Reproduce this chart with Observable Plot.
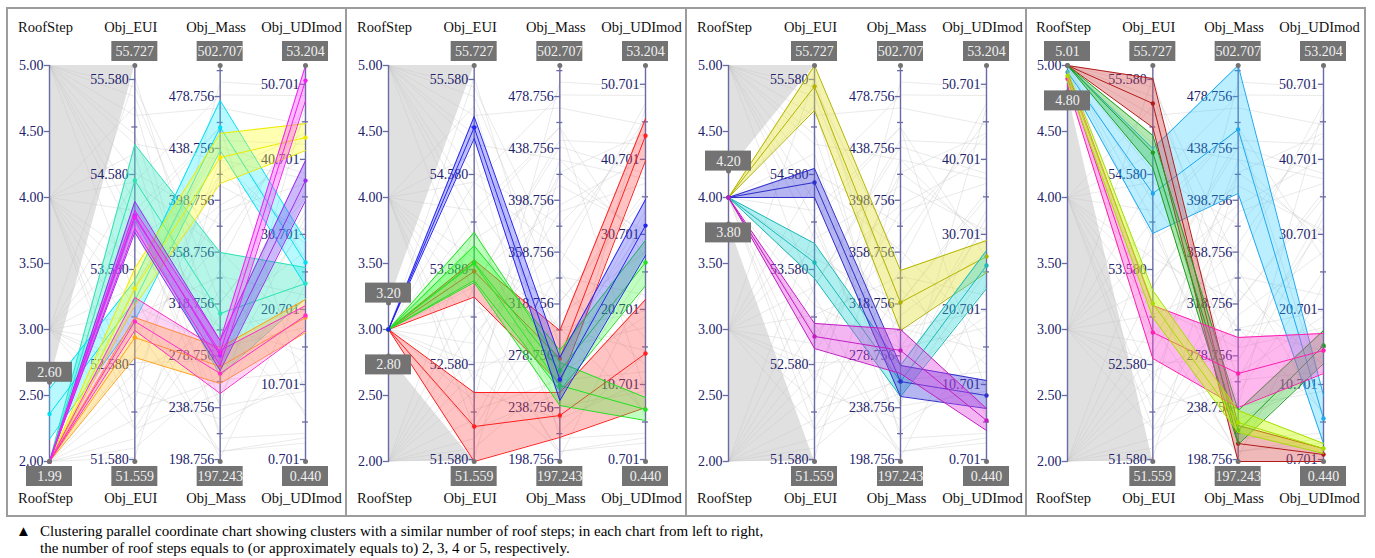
<!DOCTYPE html>
<html><head><meta charset="utf-8">
<script src="https://cdn.jsdelivr.net/npm/d3@7"></script>
<script src="https://cdn.jsdelivr.net/npm/@observablehq/plot@0.6"></script>
<style>
body{margin:0;background:#fff;font-family:"Liberation Serif","Liberation Sans",Arial,sans-serif;}
#wrap{position:relative;width:1375px;height:558px;overflow:hidden;}
.panel{position:absolute;top:0;}
#frame{position:absolute;left:6px;top:7px;width:1356px;height:506px;border:2px solid #9c9c9c;}
.sep{position:absolute;top:7px;width:2px;height:510px;background:#9c9c9c;}
#caption{position:absolute;left:0;top:523px;font-size:15px;line-height:17px;color:#000;}
#caption .tri{position:absolute;left:16px;top:0;}
#caption .l1{position:absolute;left:40px;top:0;white-space:nowrap;}
#caption .l2{position:absolute;left:40px;top:17px;white-space:nowrap;}
</style></head><body>
<div id="wrap"></div>
<script>
// ---------- data ----------
const axisNames = ["RoofStep", "Obj_EUI", "Obj_Mass", "Obj_UDImod"];
const axisMin = [2, 51.559, 197.243, 0.440];
const axisMax = [5, 55.727, 502.707, 53.204];
const minLabels = ["1.99", "51.559", "197.243", "0.440"];
const maxLabels = ["5.01", "55.727", "502.707", "53.204"];
const rsTicks = ["2.00", "2.50", "3.00", "3.50", "4.00", "4.50", "5.00"];
const euiTicks = ["51.580", "52.580", "53.580", "54.580", "55.580"];
const massTicks = ["198.756", "238.756", "278.756", "318.756", "358.756", "398.756", "438.756", "478.756"];
const udiTicks = ["0.701", "10.701", "20.701", "30.701", "40.701", "50.701"];
const euiMinor = [52.080, 53.080, 54.080, 55.080];
const massMinor = [218.756, 258.756, 298.756, 338.756, 378.756, 418.756, 458.756, 498.756];
const udiMinor = [5.701, 15.701, 25.701, 35.701, 45.701];
const brushHi = ["2.60", "3.20", "4.20", "5.01"];
const brushLo = ["1.99", "2.80", "3.80", "4.80"];

// background (all designs), [RoofStep, EUI, Mass, UDImod]
const bgLines = [
  [5, 55.2, 470, 45.3], [5, 54.9, 430, 38.1], [5, 55.5, 350, 48.2], [5, 54.3, 300, 20.5],
  [5, 53.9, 410, 31.2], [5, 55.0, 260, 12.4], [5, 54.6, 380, 43.9], [5, 53.3, 200, 24.1],
  [5, 55.4, 320, 36.4], [5, 54.1, 455, 9.6],
  [4, 54.2, 455, 27.5], [4, 53.7, 320, 35.6], [4, 55.3, 240, 9.8], [4, 52.9, 365, 46.1],
  [4, 53.2, 285, 18.3], [4, 54.8, 215, 4.2], [4, 52.4, 430, 29.4], [4, 53.5, 395, 40.8],
  [4, 51.9, 330, 13.3], [4, 54.5, 480, 49.2], [4, 52.1, 260, 33.0],
  [3, 53.1, 340, 22.6], [3, 52.6, 275, 33.9], [3, 54.1, 220, 14.7], [3, 52.2, 490, 50.3],
  [3, 53.8, 300, 7.1], [3, 51.9, 250, 25.8], [3, 52.8, 420, 44.2], [3, 54.5, 360, 16.9],
  [3, 55.6, 285, 31.9], [3, 52.5, 205, 2.9], [3, 53.4, 440, 38.8],
  [2, 52.3, 230, 11.2], [2, 51.8, 310, 28.4], [2, 53.0, 205, 3.6], [2, 52.7, 390, 37.5],
  [2, 51.7, 265, 19.8], [2, 53.4, 445, 42.7], [2, 52.0, 345, 6.5], [2, 54.0, 240, 47.6],
  [2, 52.5, 300, 15.2], [2, 51.6, 420, 30.6]
];

// clusters: lo / mid / hi per axis
const panel1Clusters = [
  {name: "turquoise", lo: [2, 54.10, 263.6, 22.15], mid: [2, 54.517, 311.4, 24.15], hi: [2, 54.896, 358.5, 26.28]},
  {name: "cyan", lo: [2.17, 53.043, 437.1, 23.88], mid: [2.36, 53.254, 454.9, 26.95], hi: [2.55, 53.464, 475.7, 29.9]},
  {name: "yellow", lo: [2, 53.20, 411.7, 41.87], mid: [2, 53.38, 431.7, 43.6], hi: [2, 53.59, 450.3, 45.46]},
  {name: "orange", lo: [2, 52.654, 257.4, 17.62], mid: [2, 52.864, 270.5, 19.62], hi: [2, 53.075, 285.2, 22.02]},
  {name: "pink", lo: [2, 52.938, 249.7, 17.9], mid: [2, 53.033, 265.1, 19.9], hi: [2, 53.285, 282.9, 21.2]},
  {name: "purple", lo: [2, 53.97, 267.4, 35.2], mid: [2, 54.148, 279.0, 37.87], hi: [2, 54.296, 290.6, 40.53]},
  {name: "magenta", lo: [2, 54.012, 271.3, 48.53], mid: [2, 54.127, 281.3, 51.19], hi: [2, 54.201, 290.6, 53.19]}
];
const panel2Clusters = [
  {name: "red", lo: [3, 51.559, 215.8, 7.63], mid: [3, 51.927, 232.7, 14.83], hi: [3, 52.285, 250.5, 22.02]},
  {name: "red", lo: [3, 53.29, 257.4, 40.52], mid: [3, 53.56, 276.7, 43.85], hi: [3, 53.68, 298.3, 46.1]},
  {name: "green", lo: [3, 53.443, 240.4, 5.9], mid: [3, 53.643, 255.9, 7.37], hi: [3, 53.97, 273.6, 8.96]},
  {name: "green", lo: [3, 53.464, 252.0, 23.88], mid: [3, 53.654, 267.4, 26.95], hi: [3, 53.83, 282.9, 29.9]},
  {name: "blue", lo: [3, 54.959, 244.3, 27.88], mid: [3, 55.075, 260.5, 31.87], hi: [3, 55.19, 277.5, 35.34]}
];
const panel3Clusters = [
  {name: "olive", lo: [4, 55.254, 298.3, 25.6], mid: [4, 55.506, 319.9, 27.75], hi: [4, 55.727, 344.6, 29.88]},
  {name: "teal", lo: [4, 53.485, 247.4, 23.48], mid: [4, 53.654, 258.9, 26.55], hi: [4, 53.854, 271.3, 28.54]},
  {name: "navy", lo: [4, 54.338, 247.4, 7.5], mid: [4, 54.496, 258.9, 9.23], hi: [4, 54.643, 271.3, 11.23]},
  {name: "violet", lo: [4, 52.748, 265.1, 4.57], mid: [4, 52.875, 282.9, 5.9], hi: [4, 53.012, 299.1, 7.5]}
];
const panel4Clusters = [
  {name: "sky", lo: [4.9, 53.96, 404.0, 2.84], mid: [4.95, 54.38, 453.3, 6.17], hi: [5, 54.854, 502.707, 9.23]},
  {name: "darkred", lo: [5, 55.074, 197.243, 0.44], mid: [5, 55.327, 211.1, 1.37], hi: [5, 55.59, 225.0, 2.17]},
  {name: "forest", lo: [5, 54.65, 210.4, 13.49], mid: [5, 54.81, 221.2, 15.89], hi: [5, 54.99, 236.6, 17.89]},
  {name: "rose", lo: [4.85, 52.643, 238.9, 12.16], mid: [4.9, 52.917, 265.1, 15.23], hi: [4.95, 53.201, 292.9, 17.5]},
  {name: "lime", lo: [4.88, 53.075, 219.6, 1.51], mid: [4.92, 53.222, 227.3, 2.17], hi: [4.96, 53.359, 236.6, 2.84]}
];
const panels = [panel1Clusters, panel2Clusters, panel3Clusters, panel4Clusters];

// ---------- styles ----------
const clusterStyle = {
  turquoise: ["#2ee3b6", "#3de8c3", 0.38],
  cyan: ["#00e0f2", "#10ecff", 0.3],
  yellow: ["#eeea00", "#ffff20", 0.35],
  purple: ["#9a2cf0", "#7a48f0", 0.38],
  magenta: ["#f21ff2", "#ff3cff", 0.35],
  pink: ["#ff2fc8", "#ff40d0", 0.22],
  orange: ["#ffa31a", "#ffc43c", 0.38],
  blue: ["#2424f0", "#3c3cff", 0.32],
  red: ["#ff2020", "#ff4848", 0.33],
  green: ["#22e022", "#30ff30", 0.3],
  olive: ["#b4b400", "#e2e240", 0.42],
  navy: ["#3030cc", "#4646dc", 0.4],
  teal: ["#1cb8b8", "#30d6d6", 0.38],
  violet: ["#c21fc2", "#e040e0", 0.38],
  darkred: ["#b01c1c", "#d84848", 0.38],
  forest: ["#1e9e1e", "#38c238", 0.38],
  sky: ["#1ea8f0", "#1ec8ff", 0.3],
  rose: ["#ff1fb0", "#ff44d2", 0.38],
  lime: ["#a6de00", "#c8ff00", 0.42]
};
const font = "Liberation Serif, Liberation Sans, Arial, sans-serif";
const axisColor = "#6a6aa4";
const labelColor = "#22226a";
const boxColor = "#737373";
const panelLeft = [7, 346, 686, 1025];
const axisFirst = [49, 388, 728, 1067];
const axisLast = [305, 645, 986, 1323];
const W = 340, H = 520;

const scales = axisMin.map((mn, i) => d3.scaleLinear([mn, axisMax[i]], [0, 1]));
const nv = (i, v) => scales[i](v);

// shared rows
const bgRows = bgLines.flatMap((r, k) => r.map((v, i) => ({k, x: i, y: nv(i, v)})));
const majorRows = [
  ...rsTicks.map(t => ({axis: 0, y: nv(0, +t), label: t})),
  ...euiTicks.map(t => ({axis: 1, y: nv(1, +t), label: t})),
  ...massTicks.map(t => ({axis: 2, y: nv(2, +t), label: t})),
  ...udiTicks.map(t => ({axis: 3, y: nv(3, +t), label: t}))
];
const minorRows = [
  ...euiMinor.map(v => ({axis: 1, y: nv(1, v)})),
  ...massMinor.map(v => ({axis: 2, y: nv(2, v)})),
  ...udiMinor.map(v => ({axis: 3, y: nv(3, v)}))
];

const wrap = document.getElementById("wrap");

panels.forEach((clusters, p) => {
  const marks = [];
  const hi = +brushHi[p], lo = +brushLo[p];
  // gray filtered-out regions
  if (hi < 5) marks.push(Plot.areaY([{x: 0, y1: nv(0, hi), y2: 1}, {x: 1, y1: 1, y2: 1}],
    {x: "x", y1: "y1", y2: "y2", fill: "#d6d6d6", fillOpacity: 0.75}));
  if (lo > 2) marks.push(Plot.areaY([{x: 0, y1: 0, y2: nv(0, lo)}, {x: 1, y1: 0, y2: 0}],
    {x: "x", y1: "y1", y2: "y2", fill: "#d6d6d6", fillOpacity: 0.75}));
  // background polylines
  marks.push(Plot.line(bgRows, {x: "x", y: "y", z: "k", stroke: "#c4c4c4", strokeOpacity: 0.45, strokeWidth: 0.8}));
  // axes
  marks.push(Plot.ruleX([0, 1, 2, 3], {x: d => d, y1: 0, y2: 1, stroke: axisColor, strokeWidth: 1.4}));
  marks.push(Plot.ruleY(majorRows, {y: "y", x1: d => d.axis - 0.06, x2: d => d.axis + 0.01, stroke: axisColor, strokeWidth: 1.3}));
  marks.push(Plot.ruleY(minorRows, {y: "y", x1: d => d.axis - 0.035, x2: d => d.axis + 0.035, stroke: axisColor, strokeWidth: 1.3}));
  marks.push(Plot.text(majorRows, {x: "axis", y: "y", text: "label", textAnchor: "end", dx: -6,
    fill: labelColor, fontSize: 14, fontFamily: font}));
  marks.push(Plot.text(axisNames, {x: (d, i) => i, y: 1, text: d => d, dy: -38, dx: -4,
    fill: "#111", fontSize: 14.5, fontFamily: font}));
  marks.push(Plot.text(axisNames, {x: (d, i) => i, y: 0, text: d => d, dy: 37, dx: -4,
    fill: "#111", fontSize: 14.5, fontFamily: font}));
  // clusters
  clusters.forEach(c => {
    const [stroke, fill, op] = clusterStyle[c.name];
    const rows = [0, 1, 2, 3].map(i => ({x: i, lo: nv(i, c.lo[i]), mid: nv(i, c.mid[i]), hi: nv(i, c.hi[i])}));
    marks.push(Plot.areaY(rows, {x: "x", y1: "lo", y2: "hi", fill, fillOpacity: op}));
    marks.push(Plot.line(rows, {x: "x", y: "hi", stroke, strokeWidth: 1}));
    marks.push(Plot.line(rows, {x: "x", y: "lo", stroke, strokeWidth: 1}));
    marks.push(Plot.line(rows, {x: "x", y: "mid", stroke, strokeWidth: 1}));
    marks.push(Plot.dot(rows, {x: "x", y: "mid", r: 2.2, fill: stroke}));
  });
  // value boxes
  const topRows = [1, 2, 3].map(i => ({axis: i, y: 1, label: maxLabels[i]}));
  const botRows = [1, 2, 3].map(i => ({axis: i, y: 0, label: minLabels[i]}));
  const upRows = [], downRows = [];
  if (hi >= 5) topRows.push({axis: 0, y: 1, label: brushHi[p]}); else upRows.push({axis: 0, y: nv(0, hi), label: brushHi[p]});
  if (lo <= 2) botRows.push({axis: 0, y: 0, label: brushLo[p]}); else downRows.push({axis: 0, y: nv(0, lo), label: brushLo[p]});
  const boxSets = [[topRows, -24, 4, -14], [botRows, 5, -25, 15], [upRows, -20, 0, -10], [downRows, -1, -19, 9]];
  boxSets.forEach(([rows, it, ib, dy]) => {
    marks.push(Plot.dot(rows, {x: "axis", y: "y", r: 2.5, fill: boxColor}));
    marks.push(Plot.rect(rows, {x1: "axis", x2: "axis", y1: "y", y2: "y", fill: boxColor,
      insetLeft: -23, insetRight: -23, insetTop: it, insetBottom: ib}));
    marks.push(Plot.text(rows, {x: "axis", y: "y", text: "label", dy, fill: "#f0f0f0",
      fontSize: 14, fontFamily: font}));
  });

  const left = panelLeft[p];
  const chart = Plot.plot({
    width: W, height: H,
    marginLeft: axisFirst[p] - left, marginRight: W - (axisLast[p] - left),
    marginTop: 65, marginBottom: H - 461,
    x: {domain: [0, 3], axis: null},
    y: {domain: [0, 1], axis: null},
    style: {background: "transparent", overflow: "visible", fontFamily: font},
    marks
  });
  chart.classList.add("panel");
  chart.style.left = left + "px";
  chart.style.maxWidth = "none";
  wrap.appendChild(chart);
});

const frame = document.createElement("div");
frame.id = "frame";
wrap.appendChild(frame);
[345, 685, 1025].forEach(x => {
  const s = document.createElement("div");
  s.className = "sep"; s.style.left = x + "px";
  wrap.appendChild(s);
});
const cap = document.createElement("div");
cap.id = "caption";
cap.innerHTML = '<span class="tri">▲</span><span class="l1">Clustering parallel coordinate chart showing clusters with a similar number of roof steps; in each chart from left to right,</span><span class="l2">the number of roof steps equals to (or approximately equals to) 2, 3, 4 or 5, respectively.</span>';
wrap.appendChild(cap);
</script>
</body></html>
